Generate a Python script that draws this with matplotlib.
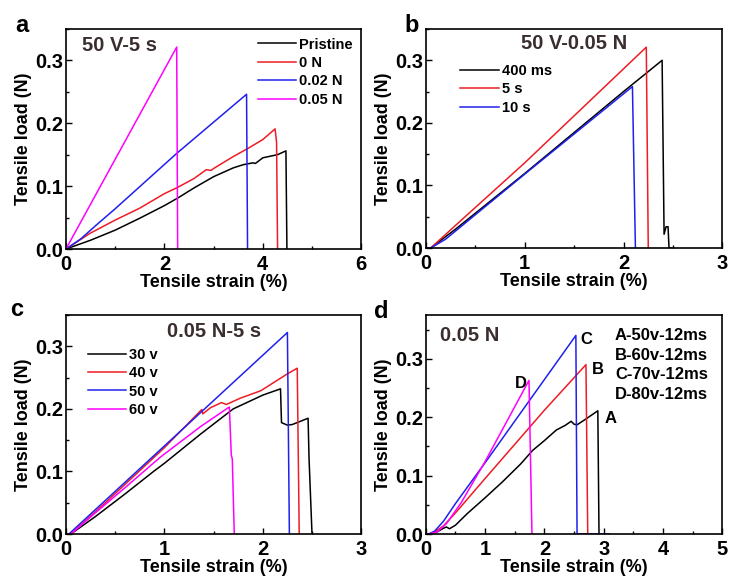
import numpy as np
import matplotlib
matplotlib.use("Agg")
import matplotlib.pyplot as plt
from matplotlib.ticker import MultipleLocator

plt.rcParams['font.family'] = ['Liberation Sans', 'DejaVu Sans']
plt.rcParams['font.weight'] = 'bold'

# ---- panel a : 50 V-5 s ----
a_labels = ["Pristine", "0 N", "0.02 N", "0.05 N"]
a_pristine_x = [0, 0.5, 1.0, 1.5, 2.0, 2.27, 2.6, 3.0, 3.4, 3.6, 3.8, 3.85, 4.0, 4.3, 4.47, 4.49]
a_pristine_y = [0, 0.014, 0.030, 0.049, 0.069, 0.081, 0.097, 0.115, 0.129, 0.134, 0.137, 0.136, 0.145, 0.150, 0.156, 0.0]
a_0n_x = [0, 0.49, 1.0, 1.5, 2.0, 2.27, 2.6, 2.85, 2.95, 3.0, 3.4, 3.7, 4.0, 4.25, 4.28, 4.30]
a_0n_y = [0, 0.025, 0.046, 0.065, 0.088, 0.098, 0.112, 0.126, 0.125, 0.128, 0.147, 0.160, 0.174, 0.191, 0.169, 0.0]
a_002_x = [0, 0.3, 0.6, 1.0, 2.25, 3.67, 3.69]
a_002_y = [0, 0.016, 0.037, 0.064, 0.152, 0.246, 0.0]
a_005_x = [0, 2.25, 2.27]
a_005_y = [0, 0.321, 0.0]

# ---- panel b : 50 V-0.05 N ----
b_labels = ["400 ms", "5 s", "10 s"]
b_400_x = [0, 0.05, 0.3, 1.0, 2.0, 2.39, 2.41, 2.43, 2.45, 2.46, 2.48]
b_400_y = [0, 0.0, 0.030, 0.119, 0.250, 0.300, 0.022, 0.034, 0.034, 0.0, 0.0]
b_5s_x = [0, 0.05, 0.3, 1.0, 2.23, 2.25]
b_5s_y = [0, 0.0, 0.036, 0.136, 0.321, 0.0]
b_10s_x = [0, 0.05, 0.2, 0.4, 1.0, 2.09, 2.12]
b_10s_y = [0, 0.0, 0.014, 0.040, 0.118, 0.258, 0.0]

# ---- panel c : 0.05 N-5 s ----
c_labels = ["30 v", "40 v", "50 v", "60 v"]
c_30_x = [0, 0.05, 0.3, 0.6, 0.89, 1.0, 1.37, 1.7, 2.0, 2.18, 2.19, 2.25, 2.3, 2.46, 2.47, 2.50]
c_30_y = [0, 0.0, 0.028, 0.064, 0.100, 0.113, 0.160, 0.200, 0.222, 0.232, 0.178, 0.174, 0.175, 0.185, 0.120, 0.0]
c_40_x = [0, 0.05, 0.4, 1.0, 1.38, 1.39, 1.47, 1.58, 1.63, 1.77, 1.98, 2.25, 2.35, 2.37]
c_40_y = [0, 0.0, 0.050, 0.138, 0.199, 0.192, 0.202, 0.210, 0.207, 0.217, 0.229, 0.256, 0.265, 0.0]
c_50_x = [0, 0.03, 2.25, 2.27]
c_50_y = [0, 0.0, 0.322, 0.0]
c_60_x = [0, 0.05, 0.3, 0.6, 0.96, 1.37, 1.66, 1.68, 1.69, 1.71]
c_60_y = [0, 0.0, 0.034, 0.074, 0.123, 0.172, 0.203, 0.126, 0.120, 0.0]

# ---- panel d : 0.05 N ----
d_legend = ["A-50v-12ms", "B-60v-12ms", "C-70v-12ms", "D-80v-12ms"]
d_a_x = [0, 0.05, 0.2, 0.3, 0.35, 0.4, 0.5, 0.7, 1.0, 1.3, 1.6, 1.8, 2.0, 2.2, 2.35, 2.45, 2.5, 2.55, 2.7, 2.9, 2.92, 2.94]
d_a_y = [0, 0.0, 0.004, 0.010, 0.012, 0.009, 0.015, 0.035, 0.062, 0.090, 0.120, 0.143, 0.160, 0.178, 0.186, 0.193, 0.188, 0.187, 0.197, 0.211, 0.0, 0.0]
d_b_x = [0, 0.1, 0.3, 0.5, 1.0, 2.0, 2.70, 2.73]
d_b_y = [0, 0.0, 0.014, 0.036, 0.095, 0.212, 0.290, 0.0]
d_c_x = [0, 0.05, 0.15, 0.3, 0.5, 1.0, 2.53, 2.55, 3.1]
d_c_y = [0, 0.0, 0.005, 0.022, 0.052, 0.122, 0.340, 0.0, 0.0]
d_d_x = [0, 0.05, 0.2, 0.35, 0.6, 1.0, 1.74, 1.79]
d_d_y = [0, 0.0, 0.004, 0.018, 0.054, 0.124, 0.263, 0.0]
d_tags = ["A", "B", "C", "D"]

BLK, RED, BLU, MAG = 'black', '#ee1c24', '#2020ee', '#ff00ff'
NOTE = '#3a2e2e'

fig = plt.figure(figsize=(7.29, 5.84), dpi=100)
ax_a = fig.add_axes([0.0905, 0.5736, 0.405, 0.377])
ax_b = fig.add_axes([0.584, 0.5753, 0.407, 0.375])
ax_c = fig.add_axes([0.0905, 0.0856, 0.405, 0.375])
ax_d = fig.add_axes([0.584, 0.0856, 0.407, 0.375])


def style(ax, xmax, xmaj):
    ax.set_xlim(0, xmax)
    ax.set_ylim(0, 0.35 if ax is not ax_d else 0.375)
    ax.xaxis.set_major_locator(MultipleLocator(xmaj))
    ax.xaxis.set_minor_locator(MultipleLocator(xmaj / 2))
    ax.yaxis.set_major_locator(MultipleLocator(0.1))
    ax.yaxis.set_minor_locator(MultipleLocator(0.05))
    ax.tick_params(which='both', direction='in', top=False, right=False, labelsize=14.5, width=1)
    ax.tick_params(axis='x', pad=4)
    ax.tick_params(axis='y', pad=2)
    ax.tick_params(which='major', length=4)
    ax.tick_params(which='minor', length=2)
    ax.yaxis.set_major_formatter(plt.FormatStrFormatter('%.1f'))
    ax.xaxis.set_major_formatter(plt.FormatStrFormatter('%d'))
    for s in ax.spines.values():
        s.set_linewidth(1.2)
    ax.set_xlabel('Tensile strain (%)', fontsize=13, fontweight='bold', labelpad=0)
    ax.set_ylabel('Tensile load (N)', fontsize=13, fontweight='bold', labelpad=2)


lw = 1.1
leg_kw = dict(frameon=False, handletextpad=0.2, labelspacing=0.3,
              prop={'weight': 'bold', 'size': 10.5})
# a
ax_a.plot(a_pristine_x, a_pristine_y, color=BLK, lw=lw, label=a_labels[0])
ax_a.plot(a_0n_x, a_0n_y, color=RED, lw=lw, label=a_labels[1])
ax_a.plot(a_002_x, a_002_y, color=BLU, lw=lw, label=a_labels[2])
ax_a.plot(a_005_x, a_005_y, color=MAG, lw=lw, label=a_labels[3])
style(ax_a, 6, 2)
ax_a.legend(loc='upper right', handlelength=2.6, borderaxespad=0.2, **leg_kw)
ax_a.text(0.32, 0.323, '50 V-5 s', fontsize=14.5, fontweight='bold', color=NOTE,
          ha='left', va='center')

# b
ax_b.plot(b_400_x, b_400_y, color=BLK, lw=lw, label=b_labels[0])
ax_b.plot(b_5s_x, b_5s_y, color=RED, lw=lw, label=b_labels[1])
ax_b.plot(b_10s_x, b_10s_y, color=BLU, lw=lw, label=b_labels[2])
style(ax_b, 3, 1)
ax_b.legend(loc='upper left', bbox_to_anchor=(0.07, 0.9), handlelength=2.7, **leg_kw)
ax_b.text(1.5, 0.327, '50 V-0.05 N', fontsize=14.5, fontweight='bold', color=NOTE,
          ha='center', va='center')

# c
ax_c.plot(c_30_x, c_30_y, color=BLK, lw=lw, label=c_labels[0])
ax_c.plot(c_40_x, c_40_y, color=RED, lw=lw, label=c_labels[1])
ax_c.plot(c_50_x, c_50_y, color=BLU, lw=lw, label=c_labels[2])
ax_c.plot(c_60_x, c_60_y, color=MAG, lw=lw, label=c_labels[3])
style(ax_c, 3, 1)
ax_c.legend(loc='upper left', bbox_to_anchor=(0.03, 0.91), handlelength=2.6, **leg_kw)
ax_c.text(1.5, 0.323, '0.05 N-5 s', fontsize=14.5, fontweight='bold', color=NOTE,
          ha='center', va='center')

# d
ax_d.plot(d_a_x, d_a_y, color=BLK, lw=lw)
ax_d.plot(d_b_x, d_b_y, color=RED, lw=lw)
ax_d.plot(d_c_x, d_c_y, color=BLU, lw=lw)
ax_d.plot(d_d_x, d_d_y, color=MAG, lw=lw)
style(ax_d, 5, 1)
ax_d.text(0.24, 0.34, '0.05 N', fontsize=14.5, fontweight='bold', color=NOTE,
          ha='left', va='center')
for i, s in enumerate(d_legend):
    ax_d.text(3.19, 0.340 - i * 0.0335, s, fontsize=12, fontweight='bold', ha='left', va='center')
tag_pos = [(3.02, 0.198), (2.8, 0.281), (2.6, 0.333), (1.5, 0.257)]
for t, (tx, ty) in zip(d_tags, tag_pos):
    ax_d.text(tx, ty, t, fontsize=12, fontweight='bold', ha='left', va='center')

for lab, (x, y) in zip('abcd', [(22, 25), (412, 25), (17, 310), (381, 312)]):
    fig.text(x / 729, 1 - y / 584, lab, fontsize=17, fontweight='bold', ha='center', va='center')

fig.savefig('out.png', dpi=100)
